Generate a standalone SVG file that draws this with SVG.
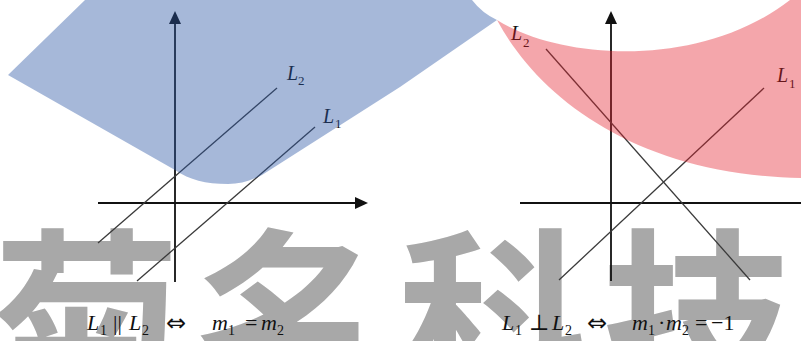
<svg xmlns="http://www.w3.org/2000/svg" width="801" height="341" viewBox="0 0 801 341">
<style>
.wm{font-family:"Noto Sans CJK SC","Noto Sans CJK JP",sans-serif;font-size:190px;font-weight:700;fill:#a8a8a8}
.axis{stroke:#111;stroke-width:1.8;fill:none}
.ln{stroke:#3a3a3a;stroke-width:1.3;fill:none}
.head{fill:#111}
.tx{font-family:"Liberation Serif","DejaVu Serif",serif;fill:#111}
.it{font-style:italic}
.lab{font-size:20px}
.sub{font-size:13px}
.f{font-size:22px}
.fs{font-size:14px}
.arr{font-family:"DejaVu Sans",sans-serif;font-size:24px}
</style>
<rect width="801" height="341" fill="#fff"/>
<g id="watermark">
<text class="wm" x="-8" y="390" textLength="800" lengthAdjust="spacing">菊名科技</text>
</g>
<g id="connectors">
<line class="axis" x1="175" y1="282" x2="175" y2="22"/>
<polygon class="head" points="175,11 169,24 181,24"/>
<line class="axis" x1="98" y1="203" x2="357" y2="203"/>
<polygon class="head" points="368,203 355,197 355,209"/>
<line class="ln" x1="98" y1="243" x2="277" y2="88"/>
<line class="ln" x1="137" y1="281" x2="315" y2="127"/>
<line class="axis" x1="611" y1="281" x2="611" y2="22"/>
<polygon class="head" points="611,11 605,24 617,24"/>
<line class="axis" x1="520" y1="203" x2="801" y2="203"/>
<line class="ln" x1="546" y1="49" x2="750" y2="280"/>
<line class="ln" x1="764" y1="88" x2="559" y2="280"/>
</g>
<g id="label-left-L2"><text class="tx lab"><tspan class="it" x="287" y="80">L</tspan><tspan class="sub" x="298" y="85">2</tspan></text></g>
<g id="label-left-L1"><text class="tx lab"><tspan class="it" x="323" y="123">L</tspan><tspan class="sub" x="335" y="128">1</tspan></text></g>
<g id="label-right-L2"><text class="tx lab"><tspan class="it" x="511" y="40">L</tspan><tspan class="sub" x="523" y="47">2</tspan></text></g>
<g id="label-right-L1"><text class="tx lab"><tspan class="it" x="777" y="82">L</tspan><tspan class="sub" x="789" y="88">1</tspan></text></g>
<g id="formula-left">
<text class="tx f"><tspan class="it" x="87" y="330">L</tspan><tspan class="fs" x="100" y="335">1</tspan><tspan x="113" y="330">||</tspan><tspan class="it" x="129" y="330">L</tspan><tspan class="fs" x="142" y="335">2</tspan><tspan class="arr" x="166" y="331">⇔</tspan><tspan class="it" x="212" y="330">m</tspan><tspan class="fs" x="228" y="335">1</tspan><tspan x="245" y="330">=</tspan><tspan class="it" x="261" y="330">m</tspan><tspan class="fs" x="277" y="335">2</tspan></text>
</g>
<g id="formula-right">
<text class="tx f"><tspan class="it" x="502" y="330">L</tspan><tspan class="fs" x="515" y="335">1</tspan><tspan x="529" y="330">⊥</tspan><tspan class="it" x="552" y="330">L</tspan><tspan class="fs" x="565" y="335">2</tspan><tspan class="arr" x="587" y="331">⇔</tspan><tspan class="it" x="632" y="330">m</tspan><tspan class="fs" x="648" y="335">1</tspan><tspan x="658" y="330">·</tspan><tspan class="it" x="666" y="330">m</tspan><tspan class="fs" x="682" y="335">2</tspan><tspan x="695" y="330">=</tspan><tspan x="711" y="330">−1</tspan></text>
</g>
<g id="shape-blue">
<path d="M8,75 L85,0 L472,0 Q482,13 497,20 L400,87 L262,175 C250,181 240,184 228,184 C205,184 190,180 175,170 Z" fill="#2c56a4" fill-opacity="0.42"/>
</g>
<g id="shape-pink">
<path d="M497,20 C540,100 640,175 801,178 L801,0 L790,0 C700,70 560,60 497,20 Z" fill="#e4202e" fill-opacity="0.4"/>
</g>
</svg>
